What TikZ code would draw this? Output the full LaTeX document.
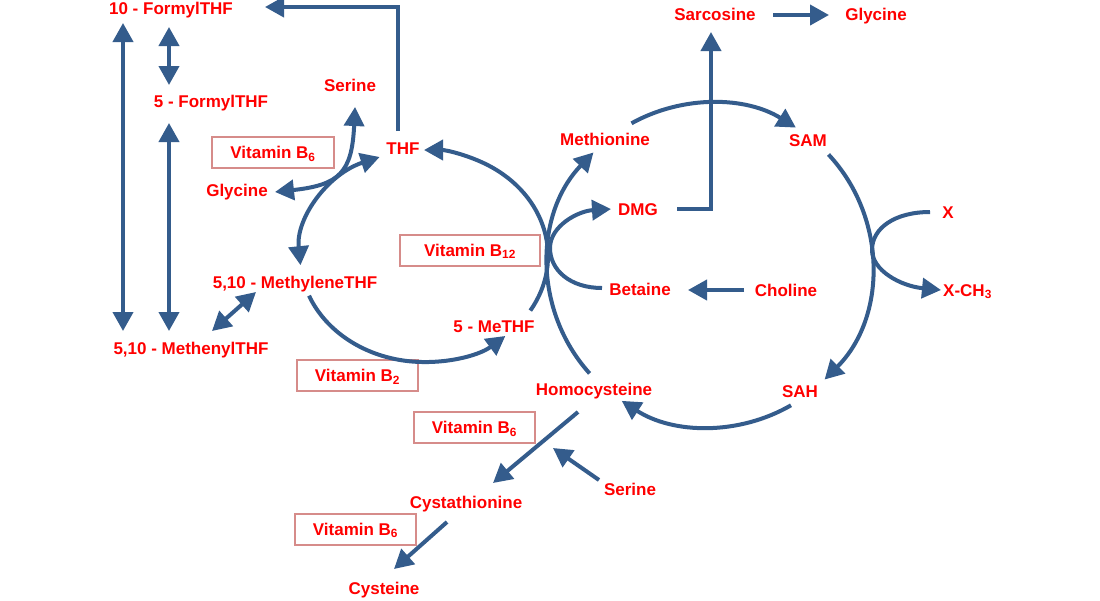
\documentclass[tikz,border=0pt]{standalone}
\usepackage{fontspec}
\setmainfont{Liberation Sans}
\usetikzlibrary{arrows.meta}
\definecolor{txtred}{RGB}{255,0,0}
\definecolor{arrblue}{RGB}{52,92,140}
\definecolor{vitbox}{RGB}{214,140,138}
\newcommand{\lblfont}{\fontsize{17}{20}\selectfont\bfseries}
\begin{document}
\begin{tikzpicture}[x=1pt,y=-1pt,
  lbl/.style={text=txtred,font=\lblfont,inner sep=0pt,text height=12.2pt,text depth=0pt},
  vit/.style={lbl,draw=vitbox,line width=2pt,minimum height=31pt},
  con/.style={draw=arrblue,line width=4pt},
  arr/.style={con,-{Triangle[length=19pt,width=20pt]}},
  darr/.style={con,{Triangle[length=19pt,width=20pt]}-{Triangle[length=19pt,width=20pt]}},
]
\useasboundingbox[fill=white] (0,0) rectangle (1100,600);

% labels
\node[lbl] (f10) at (171,8) {10 - FormylTHF};
\node[lbl] (f5) at (211,101) {5 - FormylTHF};
\node[lbl] (serineA) at (350,85) {Serine};
\node[lbl] (thf) at (403,148) {THF};
\node[lbl] (glycineA) at (237,190) {Glycine};
\node[lbl] (methylene) at (295,282) {5,10 - MethyleneTHF};
\node[lbl] (methenyl) at (191,348) {5,10 - MethenylTHF};
\node[lbl] (methf) at (494,326) {5 - MeTHF};
\node[lbl] (methionine) at (605,139) {Methionine};
\node[lbl] (sam) at (808,140) {SAM};
\node[lbl] (sarc) at (715,14) {Sarcosine};
\node[lbl] (glycineB) at (876,14) {Glycine};
\node[lbl] (dmg) at (638,209) {DMG};
\node[lbl] (xx) at (948,212) {X};
\node[lbl] (betaine) at (640,289) {Betaine};
\node[lbl] (choline) at (786,290) {Choline};
\node[lbl,anchor=west] (xch) at (943,290) {X-CH\textsubscript{3}};
\node[lbl] (sah) at (800,391) {SAH};
\node[lbl] (homo) at (594,389) {Homocysteine};
\node[lbl] (cyst) at (466,502) {Cystathionine};
\node[lbl] (serineB) at (630,489) {Serine};
\node[lbl] (cys) at (384,588) {Cysteine};

% vitamin boxes
\node[vit,minimum width=122pt] (vb6a) at (273,152.5) {Vitamin B\textsubscript{6}};
\node[vit,minimum width=140pt] (vb12) at (470,250) {Vitamin B\textsubscript{12}};
\node[vit,minimum width=121pt] (vb2) at (357.5,375.5) {Vitamin B\textsubscript{2}};
\node[vit,minimum width=121pt] (vb6b) at (474.5,427.5) {Vitamin B\textsubscript{6}};
\node[vit,minimum width=121pt] (vb6c) at (355.5,529) {Vitamin B\textsubscript{6}};

% connector end points
\coordinate (thfUp) at (398,131);
\coordinate (f10Tip) at (265,7);
\coordinate (lA) at (123,23);
\coordinate (lB) at (123,331);
\coordinate (mA) at (169,27);
\coordinate (mB) at (169,85);
\coordinate (mC) at (169,123);
\coordinate (mD) at (169,331);
\coordinate (meA) at (212,331);
\coordinate (meB) at (256,292);
\coordinate (serTip) at (355,107);
\coordinate (glyTip) at (275,192);
\coordinate (thfL) at (379.6,157);
\coordinate (mthyTip) at (300.5,265.2);
\coordinate (botS) at (309,295.7);
\coordinate (mthfTip) at (505.4,336);
\coordinate (mthfS) at (530.3,310.6);
\coordinate (thfTip) at (424,150);
\coordinate (topS) at (631.5,123.3);
\coordinate (samTip) at (795.8,127.6);
\coordinate (samS) at (828.5,154.5);
\coordinate (sahTip) at (824.6,379.6);
\coordinate (sahS) at (791,405.3);
\coordinate (homoTip) at (621.8,400.9);
\coordinate (homoS) at (589.6,373.4);
\coordinate (metTip) at (593.5,152.5);
\coordinate (betS) at (602,288);
\coordinate (dmgTip) at (611,209);
\coordinate (dmgS) at (677,209);
\coordinate (sarcTip) at (711,32);
\coordinate (sarcS) at (773,15);
\coordinate (glyBTip) at (829,15);
\coordinate (xS) at (930,212);
\coordinate (xTip) at (941,290);
\coordinate (chS) at (744,290);
\coordinate (betTip) at (688,290);
\coordinate (hcS) at (578,412);
\coordinate (cystTip) at (493,483);
\coordinate (sbS) at (599,480);
\coordinate (sbTip) at (553,448);
\coordinate (cyS) at (447,522);
\coordinate (cysTip) at (394,569);

% folate side
\draw[arr] (thfUp) |- (f10Tip);
\draw[darr] (lA) -- (lB);
\draw[darr] (mA) -- (mB);
\draw[darr] (mC) -- (mD);
\draw[darr] (meA) -- (meB);
\draw[darr] (serTip) .. controls (352,172) and (340,185) .. (glyTip);
\draw[darr] (thfL) arc[start angle=-111, end angle=-185, x radius=124, y radius=106];
\draw[arr] (botS) arc[start angle=158, end angle=49, x radius=124, y radius=106];
\draw[arr] (mthfS) arc[start angle=31, end angle=-90, x radius=124, y radius=106];

% methionine cycle
\draw[arr] (topS) arc[start angle=-119, end angle=-58, radius=162];
\draw[arr] (samS) arc[start angle=-43, end angle=45, radius=162];
\draw[arr] (sahS) arc[start angle=60, end angle=123, radius=162];
\draw[arr] (homoS) arc[start angle=138, end angle=224, radius=162];
\draw[arr] (betS) .. controls (570,288) and (550,270) .. (550,248) .. controls (550,226) and (578,211) .. (dmgTip);
\draw[arr] (dmgS) -| (sarcTip);
\draw[arr] (sarcS) -- (glyBTip);
\draw[arr] (xS) .. controls (895,212) and (872,228) .. (872,250) .. controls (872,270) and (900,286) .. (xTip);
\draw[arr] (chS) -- (betTip);

% transsulfuration
\draw[arr] (hcS) -- (cystTip);
\draw[arr] (sbS) -- (sbTip);
\draw[arr] (cyS) -- (cysTip);
\end{tikzpicture}
\end{document}
